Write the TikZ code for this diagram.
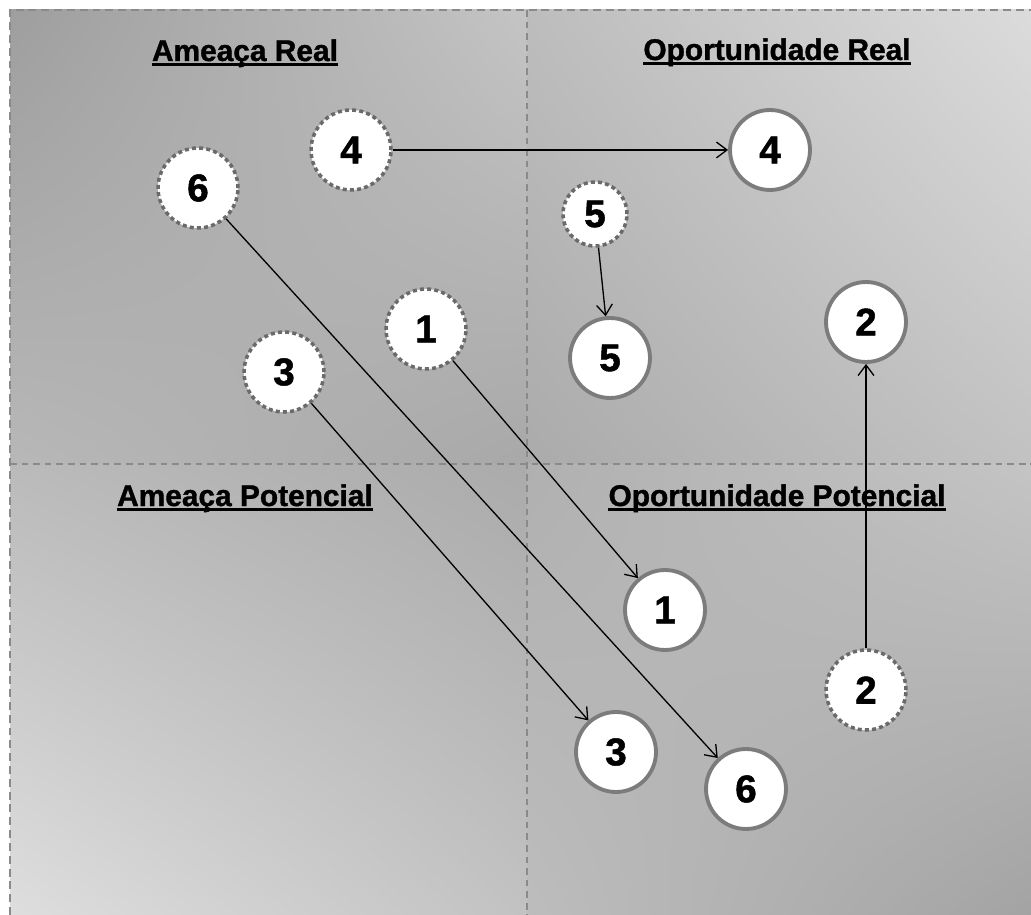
\documentclass[tikz,border=0pt]{standalone}
\usepackage{fontspec}
\setmainfont{Liberation Sans}[BoldFeatures={FakeBold=1.3}]
\usetikzlibrary{arrows.meta, shadings}

\definecolor{framegray}{HTML}{8A8A8A}
\definecolor{ringgray}{HTML}{7C7C7C}
\definecolor{dotgray}{HTML}{6A6A6A}

\begin{document}
\begin{tikzpicture}[x=0.02cm, y=0.02cm,
    >={Straight Barb[length=6pt,width=9pt]},
    ini/.style={circle, fill=white, draw=dotgray, line width=2pt,
      dash pattern=on 2.3pt off 1.8pt, minimum size=1.6cm, inner sep=0pt,
      font=\fontsize{22}{26}\selectfont\bfseries},
    fim/.style={circle, fill=white, draw=ringgray, line width=2.2pt,
      minimum size=1.6cm, inner sep=0pt, font=\fontsize{22}{26}\selectfont\bfseries},
    quadlabel/.style={anchor=base, inner sep=0pt, font=\fontsize{17}{20}\selectfont\bfseries},
    move/.style={->, line width=0.75pt}]
  \useasboundingbox (0,0) rectangle (1031,-915);
  \clip (0,0) rectangle (1031,-915);

  % quadrants
  \shade[upper left=black!38, upper right=black!23, lower left=black!28, lower right=black!34]
    (10,-10) rectangle (527,-464);
  \shade[upper left=black!26, upper right=black!14, lower left=black!33, lower right=black!24]
    (527,-10) rectangle (1031,-464);
  \shade[upper left=black!27, upper right=black!33, lower left=black!13, lower right=black!24]
    (10,-464) rectangle (527,-915);
  \shade[upper left=black!31, upper right=black!23, lower left=black!26, lower right=black!36]
    (527,-464) rectangle (1031,-915);

  % frame and dividers
  \draw[framegray, line width=1.1pt, dash pattern=on 4.5pt off 2.8pt] (10,-915) -- (10,-10) -- (1040,-10);
  \draw[framegray, line width=0.8pt, dash pattern=on 3.8pt off 2.8pt] (527,-10) -- (527,-915);
  \draw[framegray, line width=0.8pt, dash pattern=on 3.8pt off 2.8pt] (10,-464) -- (1040,-464);

  % labels
  \foreach \n/\x/\y/\t in {ar/245/-61/Ameaça Real, orl/777/-60/Oportunidade Real,
      ap/245/-506/Ameaça Potencial, op/777/-506/Oportunidade Potencial} {
    \node[quadlabel] (\n) at (\x,\y) {\t};
    \draw[line width=1.8pt] ([yshift=-1.8pt]\n.base west) -- ([yshift=-1.8pt]\n.base east);
  }

  % starting positions
  \node[ini] (ini4) at (351,-150) {4};
  \node[ini] (ini6) at (198,-188) {6};
  \node[ini, minimum size=1.28cm] (ini5) at (595,-214) {5};
  \node[ini] (ini1) at (426,-329) {1};
  \node[ini] (ini3) at (284,-372) {3};
  \node[ini] (ini2) at (866,-690) {2};

  % final positions
  \node[fim] (fim4) at (770,-150) {4};
  \node[fim] (fim5) at (610,-358) {5};
  \node[fim] (fim2) at (866,-322) {2};
  \node[fim] (fim1) at (665,-610) {1};
  \node[fim] (fim3) at (616,-752) {3};
  \node[fim] (fim6) at (746,-789) {6};

  % moves
  \draw[move] (ini4) -- (fim4);
  \draw[move] (ini5) -- (fim5);
  \draw[move] (ini1) -- (fim1);
  \draw[move] (ini3) -- (fim3);
  \draw[move] (ini6) -- (fim6);
  \draw[move] (ini2) -- (fim2);
\end{tikzpicture}
\end{document}
